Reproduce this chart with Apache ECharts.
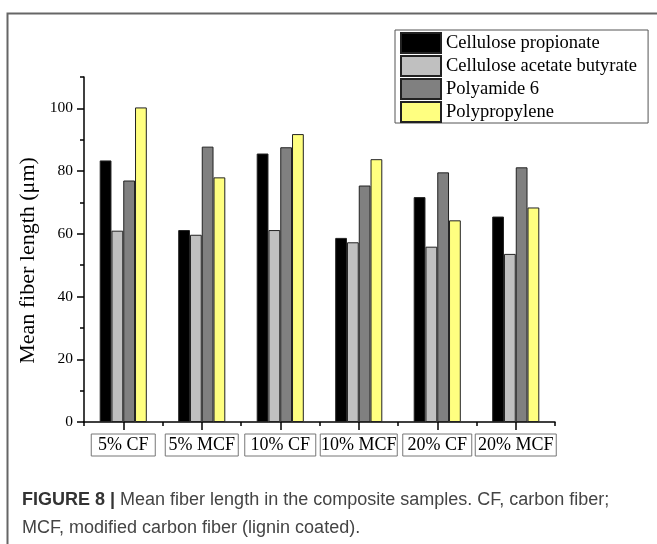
<!DOCTYPE html>
<html>
<head>
<meta charset="utf-8">
<script src="https://cdn.jsdelivr.net/npm/echarts@6/dist/echarts.min.js"></script>
<style>html,body{margin:0;padding:0;background:#fff}#c{width:657px;height:544px}</style>
</head>
<body>
<div id="c"></div>
<script>
var categories = ['5% CF', '5% MCF', '10% CF', '10% MCF', '20% CF', '20% MCF'];
var seriesNames = ['Cellulose propionate', 'Cellulose acetate butyrate', 'Polyamide 6', 'Polypropylene'];
var celluloseProp = [83.4, 61.2, 85.6, 58.7, 71.7, 65.5];
var celluloseAB = [61.0, 59.7, 61.2, 57.3, 55.9, 53.6];
var polyamide6 = [77.0, 87.8, 87.6, 75.4, 79.6, 81.2];
var polypropylene = [100.3, 78.0, 91.8, 83.8, 64.3, 68.4];
var yMajorTicks = [0, 20, 40, 60, 80, 100];

var colors = ['#000000', '#c0c0c0', '#808080', '#ffff80'];
var values = [celluloseProp, celluloseAB, polyamide6, polypropylene];
var boxWidths = [66, 75, 73, 79, 71, 83];
var serif = '"Liberation Serif", "Times New Roman", serif';
var sans = '"Liberation Sans", Arial, sans-serif';

var rich = {};
boxWidths.forEach(function (w, i) {
  rich['w' + i] = {
    width: w - 2, height: 22, lineHeight: 22, align: 'center',
    borderColor: '#777', borderWidth: 1,
    fontFamily: serif, fontSize: 18, color: '#000'
  };
});

var chart = echarts.init(document.getElementById('c'), null, {renderer: 'canvas'});
chart.setOption({
  animation: false,
  backgroundColor: '#fff',
  graphic: [{
    type: 'rect', silent: true, z: -10,
    shape: {x: 7.5, y: 13.5, width: 700, height: 600},
    style: {fill: 'none', stroke: '#666', lineWidth: 2}
  }],
  title: {
    left: 22, top: 486, padding: 0,
    text: '{b|FIGURE 8 |} Mean fiber length in the composite samples. CF, carbon fiber;\nMCF, modified carbon fiber (lignin coated).',
    textStyle: {
      fontFamily: sans, fontSize: 18, fontWeight: 'normal',
      color: '#444', lineHeight: 28,
      rich: {b: {fontFamily: sans, fontSize: 18, fontWeight: 'bold', color: '#333', lineHeight: 28}}
    }
  },
  legend: {
    orient: 'vertical', left: 395, top: 30,
    itemWidth: 40, itemHeight: 20, itemGap: 1,
    padding: [2, 11, 0, 5],
    borderColor: '#555', borderWidth: 1,
    icon: 'rect',
    textStyle: {fontFamily: serif, fontSize: 18.5, color: '#000'},
    data: seriesNames
  },
  grid: {left: 84, top: 77, right: 102, bottom: 122, containLabel: false},
  xAxis: [{
    type: 'category', data: categories,
    axisLine: {lineStyle: {color: '#000', width: 1.5}},
    axisTick: {show: true, alignWithLabel: false, length: 4, lineStyle: {color: '#000', width: 1.5}},
    axisLabel: {
      margin: 12, interval: 0,
      formatter: function (v, i) { return '{w' + i + '|' + v + '}'; },
      rich: rich
    }
  }, {
    type: 'category', data: categories, position: 'bottom',
    axisLine: {show: false},
    axisTick: {show: true, alignWithLabel: true, length: 8, lineStyle: {color: '#000', width: 1.5}},
    axisLabel: {show: false}
  }],
  yAxis: [{
    type: 'value', min: 0, max: 110, interval: 10,
    axisLine: {show: true, lineStyle: {color: '#000', width: 1.5}},
    axisTick: {show: true, length: 4, lineStyle: {color: '#000', width: 1.5}},
    axisLabel: {show: false},
    splitLine: {show: false},
    name: 'Mean fiber length (\u03bcm)', nameLocation: 'middle', nameGap: 45,
    nameTextStyle: {fontFamily: serif, fontSize: 22, color: '#000', padding: [0, 22, 0, 0]}
  }, {
    type: 'value', min: 0, max: 110, position: 'left',
    axisLine: {show: false},
    axisTick: {show: true, length: 7, customValues: yMajorTicks, lineStyle: {color: '#000', width: 1.5}},
    axisLabel: {show: true, margin: 11, customValues: yMajorTicks, fontFamily: serif, fontSize: 15.5, color: '#000'},
    splitLine: {show: false}
  }],
  series: seriesNames.map(function (n, i) {
    return {
      name: n, type: 'bar', data: values[i],
      barGap: '0%', barCategoryGap: '40%',
      itemStyle: {color: colors[i], borderColor: '#222', borderWidth: 1}
    };
  })
});
</script>
</body>
</html>
